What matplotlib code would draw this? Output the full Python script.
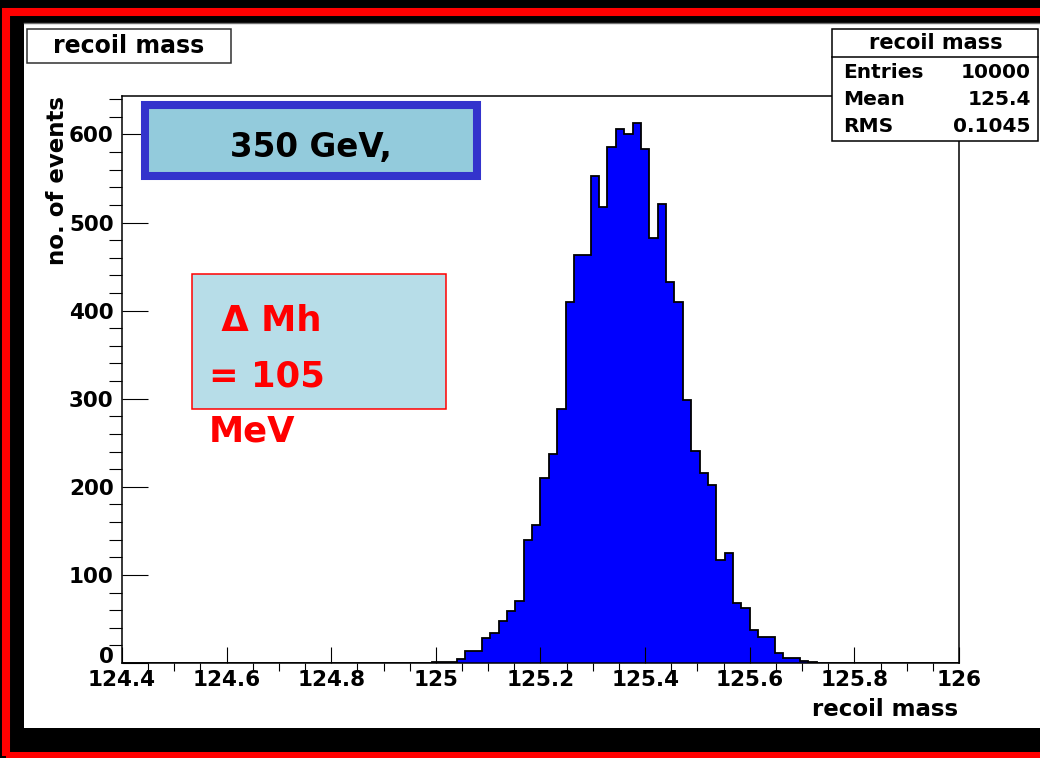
import numpy as np
import matplotlib
matplotlib.use("Agg")
import matplotlib.pyplot as plt
from matplotlib.patches import Rectangle
from matplotlib.lines import Line2D

# ------------------------------------------------------------------
# histogram data: 100 bins on [124.4, 126.0]
# ------------------------------------------------------------------
x_lo, x_hi, n_bins = 124.4, 126.0, 100
peak_counts = [
    1, 1, 1, 5, 14, 14, 28, 34, 48, 59, 70, 140, 157, 210, 237, 288,
    410, 463, 463, 553, 518, 586, 606, 601, 613, 584, 482, 521, 432, 410,
    299, 241, 216, 202, 117, 125, 68, 62, 37, 29, 29, 11, 6, 6, 2, 1,
]
counts = [0] * 37 + peak_counts + [0] * 17

x_ticks = [124.4, 124.6, 124.8, 125.0, 125.2, 125.4, 125.6, 125.8, 126.0]
x_tick_labels = ["124.4", "124.6", "124.8", "125", "125.2", "125.4", "125.6", "125.8", "126"]
y_ticks = [0, 100, 200, 300, 400, 500, 600]
y_tick_labels = ["0", "100", "200", "300", "400", "500", "600"]

hist_name = "recoil mass"
x_title = "recoil mass"
y_title = "no. of events"
stat_names = ["Entries", "Mean", "RMS"]
stat_values = ["10000", "125.4", "0.1045"]
energy_label = "350 GeV,"
width_label = " Δ Mh\n= 105\nMeV"

# ------------------------------------------------------------------
# canvas, in pixel units
# ------------------------------------------------------------------
W, H = 1040, 758
fig = plt.figure(figsize=(W / 100, H / 100), dpi=100, facecolor="black")


def fx(px):
    return px / W


def fy(py):
    return 1.0 - py / H


def box(x0, y0, x1, y1, **kw):
    r = Rectangle((fx(x0), fy(y1)), fx(x1) - fx(x0), fy(y0) - fy(y1),
                  transform=fig.transFigure, **kw)
    fig.add_artist(r)
    return r


# red frame and white pad
box(6, 12, 1080, 756, facecolor="none", edgecolor="#ff0000", linewidth=5.8, zorder=-10)
box(24, 24, 1045, 728, facecolor="white", edgecolor="none", zorder=-5)
fig.add_artist(Line2D([fx(24), fx(1040)], [fy(23), fy(23)], transform=fig.transFigure,
                      color="#707070", linewidth=1.0, zorder=-4))

# ------------------------------------------------------------------
# histogram frame
# ------------------------------------------------------------------
ax_l, ax_r, ax_t, ax_b = 122, 959, 96, 663
ax = fig.add_axes([fx(ax_l), fy(ax_b), fx(ax_r) - fx(ax_l), fy(ax_t) - fy(ax_b)])
ax.set_facecolor("white")

edges = np.linspace(x_lo, x_hi, n_bins + 1)
ax.stairs(counts, edges, fill=True, facecolor="#0000ff", edgecolor="none")
ax.stairs(counts, edges, color="black", linewidth=1.3)

ax.set_xlim(x_lo, x_hi)
ax.set_ylim(0, 1.05 * max(counts))

ax.set_xticks(x_ticks, x_tick_labels)
ax.set_yticks(y_ticks, y_tick_labels)
ax.set_xticks(np.arange(x_lo, x_hi + 1e-9, 0.05), minor=True)
ax.set_yticks(np.arange(0, 641, 20), minor=True)
ax.tick_params(axis="both", direction="in", top=False, right=False, width=0.8,
               labelsize=15.5, colors="black")
ax.tick_params(axis="x", which="major", length=11.5, pad=5)
ax.tick_params(axis="x", which="minor", length=6, width=0.8)
ax.tick_params(axis="y", which="major", length=18.5, pad=6)
ax.tick_params(axis="y", which="minor", length=9.5, width=0.8)
for lab in ax.get_xticklabels() + ax.get_yticklabels():
    lab.set_fontweight("bold")
# the zero label sits on the axis line, clear of the x labels
ax.get_yticklabels()[0].set_verticalalignment("baseline")
for sp in ax.spines.values():
    sp.set_linewidth(1.1)

fig.text(fx(958), fy(710), x_title, ha="right", va="center",
         fontsize=16.5, fontweight="bold")
fig.text(fx(58), fy(96), y_title, ha="center", va="top", rotation=90,
         fontsize=16.5, fontweight="bold")

# title box
box(27, 29, 231, 63, facecolor="white", edgecolor="#303030", linewidth=1.1, zorder=5)
fig.text(fx(129), fy(46), hist_name, ha="center", va="center",
         fontsize=17, fontweight="bold", zorder=6)

# statistics box
box(832, 29, 1038, 141, facecolor="white", edgecolor="black", linewidth=1.1, zorder=5)
fig.add_artist(Line2D([fx(832), fx(1038)], [fy(57), fy(57)], transform=fig.transFigure,
                      color="black", linewidth=1.1, zorder=6))
fig.text(fx(936), fy(43), hist_name, ha="center", va="center",
         fontsize=15, fontweight="bold", zorder=6)
for i, (name, val) in enumerate(zip(stat_names, stat_values)):
    yy = 72 + 27.3 * i
    fig.text(fx(843), fy(yy), name, ha="left", va="center",
             fontsize=14.5, fontweight="bold", zorder=6)
    fig.text(fx(1031), fy(yy), val, ha="right", va="center",
             fontsize=14.5, fontweight="bold", zorder=6)

# annotation boxes
box(145, 105, 477, 176, facecolor="#93cbdc", edgecolor="#3333cc", linewidth=5.8, zorder=5)
fig.text(fx(311), fy(148), energy_label, ha="center", va="center",
         fontsize=23.5, fontweight="bold", color="black", zorder=6)

box(192, 274, 446, 409, facecolor="#b7dde8", edgecolor="#ff0000", linewidth=1.1, zorder=5)
fig.text(fx(209), fy(304), width_label, ha="left", va="top", linespacing=1.78,
         fontsize=25.5, fontweight="bold", color="#ff0000", zorder=6)

fig.savefig("out.png", dpi=100, facecolor=fig.get_facecolor())
